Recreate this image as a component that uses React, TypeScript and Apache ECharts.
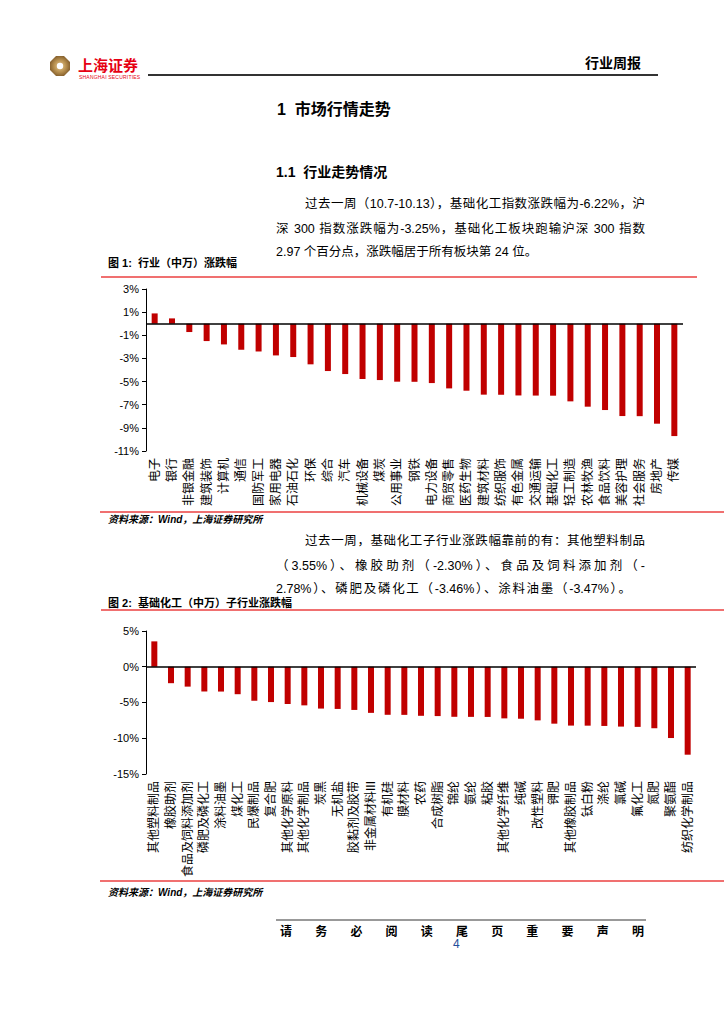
import React, { useEffect, useRef } from "react";
import * as echarts from "echarts";

// ---------- data ----------
const industries = ["电子","银行","非银金融","建筑装饰","计算机","通信","国防军工","家用电器","石油石化","环保","综合","汽车","机械设备","煤炭","公用事业","钢铁","电力设备","商贸零售","医药生物","建筑材料","纺织服饰","有色金属","交通运输","基础化工","轻工制造","农林牧渔","食品饮料","美容护理","社会服务","房地产","传媒"];
const industryChange = [0.89,0.46,-0.72,-1.50,-1.79,-2.25,-2.40,-2.74,-2.88,-3.51,-4.09,-4.35,-4.78,-4.87,-5.01,-5.02,-5.13,-5.59,-5.79,-6.13,-6.14,-6.20,-6.21,-6.22,-6.71,-7.17,-7.46,-7.98,-7.99,-8.64,-9.71];
const industryAxis = { min: -11, max: 3, interval: 2 };

const subIndustries = ["其他塑料制品","橡胶助剂","食品及饲料添加剂","磷肥及磷化工","涂料油墨","煤化工","民爆制品","复合肥","其他化学原料","其他化学制品","炭黑","无机盐","胶黏剂及胶带","非金属材料III","有机硅","膜材料","农药","合成树脂","锦纶","氨纶","粘胶","其他化学纤维","纯碱","改性塑料","钾肥","其他橡胶制品","钛白粉","涤纶","氯碱","氟化工","氮肥","聚氨酯","纺织化学制品"];
const subChange = [3.55,-2.30,-2.78,-3.46,-3.47,-3.84,-4.76,-4.94,-5.21,-5.40,-5.85,-5.90,-6.04,-6.45,-6.72,-6.73,-6.86,-6.90,-7.00,-7.01,-7.02,-7.22,-7.27,-7.50,-7.96,-8.23,-8.24,-8.28,-8.37,-8.41,-8.60,-9.97,-12.30];
const subAxis = { min: -15, max: 5, interval: 5 };

const para1 = [
  "过去一周（10.7-10.13），基础化工指数涨跌幅为-6.22%，沪",
  "深 300 指数涨跌幅为-3.25%，基础化工板块跑输沪深 300 指数",
  "2.97 个百分点，涨跌幅居于所有板块第 24 位。",
];
const para2 = [
  "过去一周，基础化工子行业涨跌幅靠前的有：其他塑料制品",
  "（3.55%）、橡胶助剂（-2.30%）、食品及饲料添加剂（-",
  "2.78%）、磷肥及磷化工（-3.46%）、涂料油墨（-3.47%）。",
];
const footerChars = ["请","务","必","阅","读","尾","页","重","要","声","明"];

const CJK = '"Liberation Sans", Arial, "Noto Sans CJK SC", sans-serif';

type ChartProps = {
  cats: string[];
  vals: number[];
  axis: { min: number; max: number; interval: number };
  top: number;
  height: number;
  gridTop: number;
  gridLeft: number;
  gridWidth: number;
  gridHeight: number;
};

function BarChart(p: ChartProps) {
  const ref = useRef<HTMLDivElement>(null);
  useEffect(() => {
    if (!ref.current) return;
    const chart = echarts.init(ref.current, undefined, { renderer: "svg" });
    chart.setOption({
      animation: false,
      grid: { left: p.gridLeft, top: p.gridTop, width: p.gridWidth, height: p.gridHeight, containLabel: false },
      xAxis: {
        type: "category",
        data: p.cats,
        axisLine: { show: false, onZero: false },
        axisTick: { show: false },
        axisLabel: {
          interval: 0,
          rotate: 90,
          margin: 7,
          fontSize: 12,
          color: "#000",
          fontFamily: CJK,
        },
      },
      yAxis: {
        type: "value",
        min: p.axis.min,
        max: p.axis.max,
        interval: p.axis.interval,
        axisLine: { show: true, lineStyle: { color: "#000", width: 1 } },
        axisTick: { show: true, length: 4, lineStyle: { color: "#000" } },
        splitLine: { show: false },
        axisLabel: {
          formatter: (v: number) => `${v}%`,
          fontSize: 11,
          color: "#000",
          margin: 7,
          fontFamily: '"Liberation Sans", Arial, sans-serif',
        },
      },
      series: [
        {
          type: "bar",
          data: p.vals,
          barWidth: 6,
          itemStyle: { color: "#c00000" },
          markLine: {
            silent: true,
            symbol: ["none", "none"],
            label: { show: false },
            lineStyle: { color: "#000", width: 1.5, type: "solid" },
            data: [{ yAxis: 0 }],
          },
        },
      ],
    });
    return () => chart.dispose();
  }, []);
  return (
    <div
      ref={ref}
      style={{ position: "absolute", left: 0, top: p.top, width: 724, height: p.height }}
    />
  );
}

const abs = (x: number, y: number, extra: React.CSSProperties = {}): React.CSSProperties => ({
  position: "absolute",
  left: x,
  top: y,
  whiteSpace: "nowrap",
  ...extra,
});

function JustLine({ text, x, y, w, last }: { text: string; x: number; y: number; w: number; last?: boolean }) {
  return (
    <div
      style={abs(x, y, {
        width: w,
        fontSize: 12.5,
        lineHeight: "16px",
        fontFamily: CJK,
        color: "#000",
        textAlign: last ? "left" : "justify",
        textAlignLast: last ? "left" : "justify",
        whiteSpace: "normal",
        wordBreak: "keep-all",
      } as React.CSSProperties)}
    >
      {text}
    </div>
  );
}

export default function App() {
  return (
    <div style={{ position: "absolute", left: 0, top: 0, width: 724, height: 1024, background: "#fff", overflow: "hidden", fontFamily: CJK }}>
      {/* logo */}
      <svg style={abs(49, 55)} width={22} height={22} viewBox="0 0 22 22">
        <defs>
          <radialGradient id="lg" cx="50%" cy="50%" r="50%">
            <stop offset="0%" stopColor="#e7c98f" />
            <stop offset="60%" stopColor="#b8904f" />
            <stop offset="100%" stopColor="#8a6430" />
          </radialGradient>
        </defs>
        <polygon points="7,1 15,1 21,7 21,15 15,21 7,21 1,15 1,7" fill="url(#lg)" />
        <circle cx={11} cy={11} r={3.2} fill="#fff" />
      </svg>
      <div style={abs(78, 56, { fontSize: 15, fontWeight: 700, color: "#e60012", letterSpacing: 0, lineHeight: "17px", fontFamily: '"Noto Sans CJK SC", sans-serif' })}>上海证券</div>
      <div style={abs(79, 74, { fontSize: 5, color: "#e60012", lineHeight: "6px", fontFamily: '"Liberation Sans", Arial, sans-serif', letterSpacing: 0.2 })}>SHANGHAI SECURITIES</div>
      <div style={abs(585, 53, { fontSize: 14, fontWeight: 700, color: "#000", lineHeight: "18px", fontFamily: '"Noto Sans CJK SC", sans-serif' })}>行业周报</div>
      <div style={abs(148, 74, { width: 510, height: 2, background: "#333" })} />

      {/* headings */}
      <div style={abs(277, 100, { fontSize: 16, fontWeight: 700, lineHeight: "20px", color: "#000" })}>1&nbsp; 市场行情走势</div>
      <div style={abs(276, 163, { fontSize: 14, fontWeight: 700, lineHeight: "18px", color: "#000" })}>1.1&nbsp; 行业走势情况</div>

      <JustLine text={para1[0]} x={305} y={196} w={340} />
      <JustLine text={para1[1]} x={276} y={221} w={369} />
      <JustLine text={para1[2]} x={276} y={244} w={369} last />

      {/* figure 1 */}
      <div style={abs(108, 256, { fontSize: 11, fontWeight: 700, lineHeight: "14px", color: "#000" })}>图 1:&nbsp; 行业（中万）涨跌幅</div>
      <div style={abs(101, 276, { width: 596, height: 2, background: "#f07070" })} />
      <BarChart
        cats={industries}
        vals={industryChange}
        axis={industryAxis}
        top={280}
        height={230}
        gridTop={9}
        gridLeft={146}
        gridWidth={537}
        gridHeight={162}
      />
      <div style={abs(100, 511, { width: 624, height: 2, background: "#f07070" })} />
      <div style={abs(108, 513, { fontSize: 10, fontWeight: 700, fontStyle: "italic", lineHeight: "13px", color: "#000" })}>资料来源：Wind，上海证券研究所</div>

      <JustLine text={para2[0]} x={305} y={533} w={340} />
      <JustLine text={para2[1]} x={276} y={558} w={369} />
      <JustLine text={para2[2]} x={276} y={581} w={355} />

      {/* figure 2 */}
      <div style={abs(108, 596, { fontSize: 11, fontWeight: 700, lineHeight: "14px", color: "#000" })}>图 2:&nbsp; 基础化工（中万）子行业涨跌幅</div>
      <div style={abs(101, 609, { width: 623, height: 2, background: "#f07070" })} />
      <BarChart
        cats={subIndustries}
        vals={subChange}
        axis={subAxis}
        top={620}
        height={260}
        gridTop={11}
        gridLeft={146}
        gridWidth={550}
        gridHeight={144}
      />
      <div style={abs(100, 880, { width: 624, height: 2, background: "#f07070" })} />
      <div style={abs(108, 886, { fontSize: 10, fontWeight: 700, fontStyle: "italic", lineHeight: "13px", color: "#000" })}>资料来源：Wind，上海证券研究所</div>

      {/* footer */}
      <div style={abs(276, 919, { width: 370, height: 2, background: "#999" })} />
      <div style={abs(280, 924, { width: 364, display: "flex", justifyContent: "space-between", fontSize: 12, fontWeight: 700, lineHeight: "16px", color: "#000" })}>
        {footerChars.map((c, i) => (
          <span key={i}>{c}</span>
        ))}
      </div>
      <div style={abs(453, 937, { fontSize: 12, color: "#1f4e9a", lineHeight: "15px", fontFamily: '"Liberation Sans", Arial, sans-serif' })}>4</div>
    </div>
  );
}
